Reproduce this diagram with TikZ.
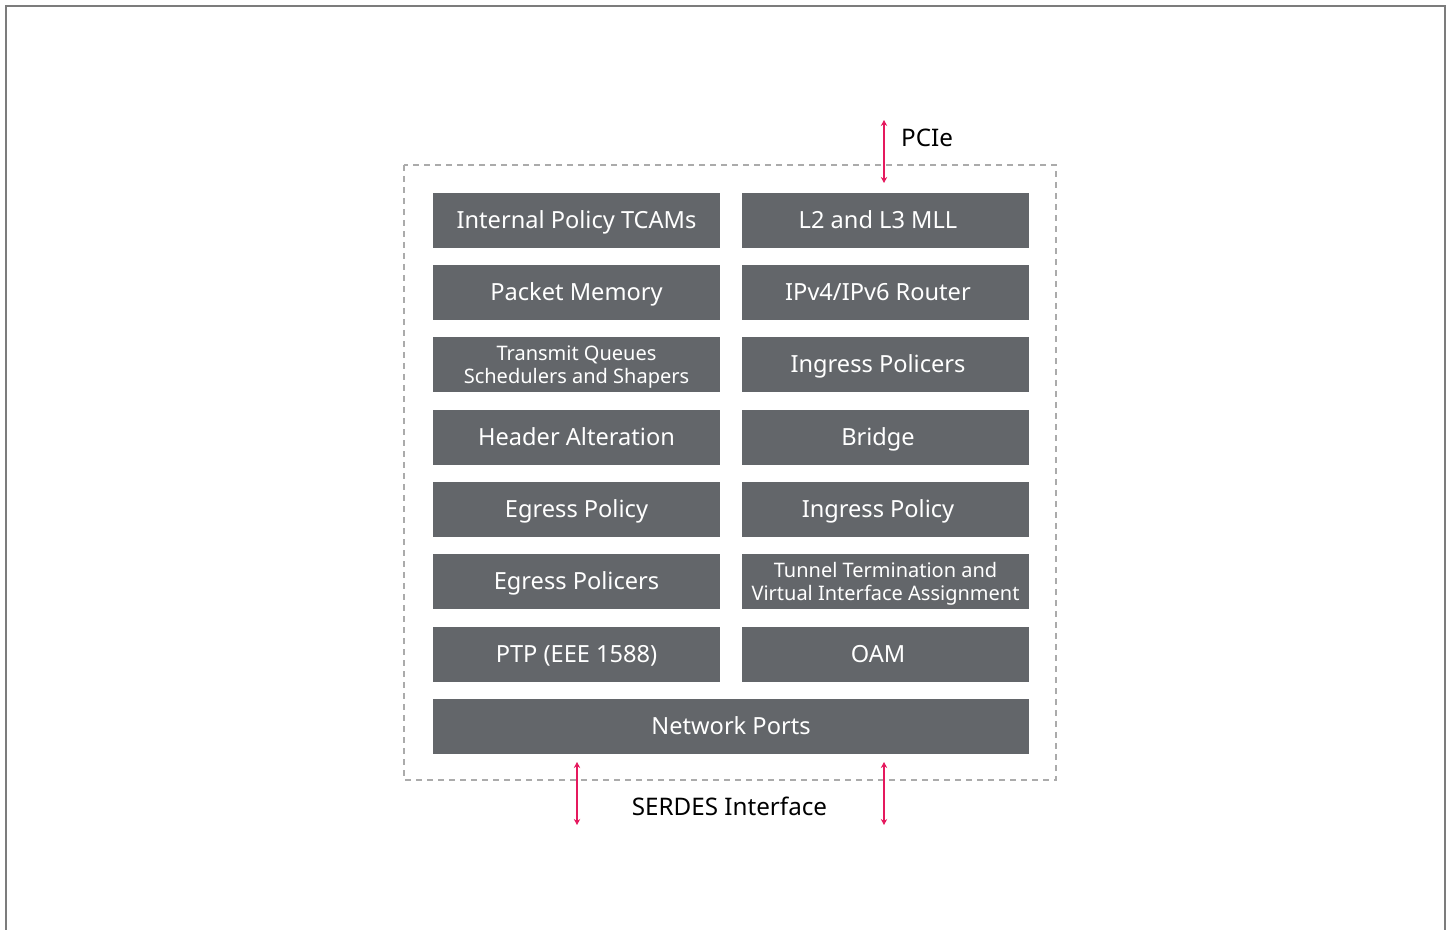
\documentclass[tikz,border=0pt]{standalone}
\usepackage{fontspec}
\setmainfont{Noto Sans}
\usetikzlibrary{arrows.meta}
\definecolor{blockgray}{HTML}{63666A}
\definecolor{pfeilrot}{HTML}{E5195E}
\definecolor{rahmengrau}{HTML}{7C7C7C}
\definecolor{strichgrau}{HTML}{ABABAB}
\tikzset{
	block/.style={fill=blockgray, text=white, minimum width=143.5pt,
	minimum height=27.5pt, inner sep=0pt, align=center,
	text height=8.4pt, text depth=0pt,
	font=\fontsize{11.8}{14}\selectfont},
	blockrechts/.style={block, execute at end node={\hspace*{7.5pt}}},
	blockklein/.style={block, text height=, text depth=0pt,
	font=\fontsize{10}{11.5}\selectfont},
	pfeil/.style={draw=pfeilrot, line width=0.9pt,
	{Stealth[length=3pt,width=3.2pt]}-{Stealth[length=3pt,width=3.2pt]}},
	beschriftung/.style={text=black, font=\fontsize{12.1}{14}\selectfont}
}
\begin{document}
\begin{tikzpicture}[x=0.5pt, y=-0.5pt]
	\useasboundingbox (0, 0) rectangle (1449, 930);
	% Rahmen
	\draw[rahmengrau, line width=1pt] (6, 930) -- (6, 6) -- (1445, 6) -- (1445, 930);
	% Chipgrenze
	\draw[strichgrau, line width=0.6pt, dash pattern=on 3pt off 2.5pt]
	(404, 165) rectangle (1056, 780);

	% Bloecke links
	\node[block] (tcam) at (576.5, 220.5) {Internal Policy TCAMs};
	\node[block] (pktmem) at (576.5, 292.5) {Packet Memory};
	\node[blockklein] (txq) at (576.5, 364.5) {Transmit Queues\\Schedulers and Shapers};
	\node[block] (hdralt) at (576.5, 437) {Header Alteration};
	\node[block] (egpol) at (576.5, 509.5) {Egress Policy};
	\node[block] (egpolicer) at (576.5, 581.5) {Egress Policers};
	\node[block] (ptp) at (576.5, 654.5) {PTP (EEE 1588)};
	% Bloecke rechts
	\node[blockrechts] (mll) at (885.5, 220.5) {L2 and L3 MLL};
	\node[blockrechts] (router) at (885.5, 292.5) {IPv4/IPv6 Router};
	\node[blockrechts] (ingpolicer) at (885.5, 364.5) {Ingress Policers};
	\node[blockrechts] (bridge) at (885.5, 437) {Bridge};
	\node[blockrechts] (ingpol) at (885.5, 509.5) {Ingress Policy};
	\node[blockklein] (tunnel) at (885.5, 581.5) {Tunnel Termination and\\Virtual Interface Assignment};
	\node[blockrechts] (oam) at (885.5, 654.5) {OAM};
	% Ports
	\node[block, minimum width=298pt] (ports) at (731, 726.5) {Network Ports};

	% PCIe
	\coordinate (pcieoben) at (884, 120);
	\coordinate (pcieunten) at (884, 183);
	\draw[pfeil] (pcieoben) -- (pcieunten);
	\node[beschriftung] (pcie) at (927, 138) {PCIe};
	% SERDES
	\coordinate (serAoben) at (577, 762);
	\coordinate (serAunten) at (577, 825);
	\coordinate (serBoben) at (884, 762);
	\coordinate (serBunten) at (884, 825);
	\draw[pfeil] (serAoben) -- (serAunten);
	\draw[pfeil] (serBoben) -- (serBunten);
	\node[beschriftung] (serdes) at (729.5, 806) {SERDES Interface};
\end{tikzpicture}
\end{document}
